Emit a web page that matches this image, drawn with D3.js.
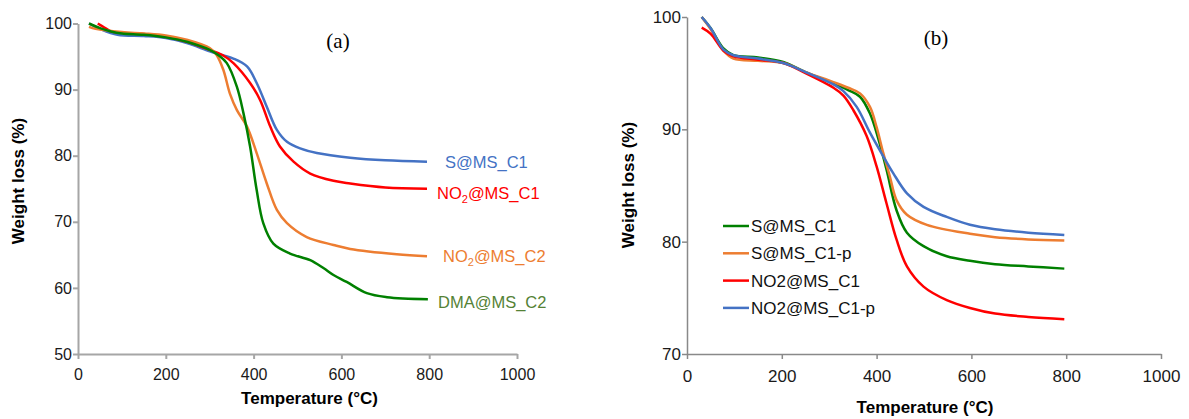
<!DOCTYPE html>
<html>
<head>
<meta charset="utf-8">
<script src="https://cdn.jsdelivr.net/npm/d3@7"></script>
<style>
  body { margin: 0; background: #fff; }
  svg { display: block; font-family: "Liberation Sans", Arial, sans-serif; }
</style>
</head>
<body>
<script>
// ---- panel (a) data ----
var aS_T   = [25, 50, 90, 150, 200, 250, 300, 330, 354, 385, 407, 430, 453, 476, 506, 544, 620, 700, 795];
var aS_W   = [100, 99.2, 98.3, 98.1, 97.8, 97.0, 95.8, 95.2, 94.7, 93.5, 91.0, 87.4, 83.9, 82.1, 81.1, 80.4, 79.7, 79.3, 79.1];
var aN1_T  = [45, 60, 75, 100, 150, 200, 250, 300, 330, 354, 392, 415, 438, 460, 491, 529, 582, 620, 700, 795];
var aN1_W  = [100, 99.4, 98.8, 98.6, 98.4, 98.0, 97.2, 96.0, 95.2, 94.0, 91.0, 88.4, 84.4, 81.4, 79.1, 77.3, 76.2, 75.8, 75.2, 75.0];
var aN2_T  = [25, 40, 100, 150, 200, 250, 300, 315, 331, 346, 362, 385, 407, 430, 453, 476, 521, 582, 620, 726, 795];
var aN2_W  = [99.5, 99.2, 98.7, 98.5, 98.2, 97.5, 96.3, 95.3, 93.0, 89.4, 86.9, 84.4, 80.4, 75.8, 71.8, 69.8, 67.7, 66.5, 65.9, 65.1, 64.8];
var aD_T   = [25, 50, 75, 100, 150, 200, 250, 300, 320, 339, 362, 377, 392, 407, 422, 445, 483, 529, 559, 582, 612, 658, 704, 797];
var aD_W   = [100, 99.3, 98.8, 98.5, 98.3, 97.9, 97.2, 96.0, 95.2, 94.0, 90.4, 86.4, 81.4, 74.8, 69.8, 66.7, 65.2, 64.2, 63.0, 61.95, 60.9, 59.2, 58.6, 58.3];

// ---- panel (b) data ----
var bS_T   = [31, 50, 77, 98, 150, 203, 250, 309, 340, 365, 386, 404, 421, 442, 464, 499, 548, 597, 650, 720, 796];
var bS_W   = [100, 99.0, 97.2, 96.6, 96.4, 96.0, 95.1, 94.1, 93.5, 92.9, 91.4, 89.1, 86.4, 82.8, 80.8, 79.6, 78.7, 78.3, 78.0, 77.8, 77.6];
var bSp_T  = [31, 50, 77, 98, 150, 203, 250, 309, 340, 365, 386, 400, 414, 428, 442, 464, 506, 597, 650, 720, 796];
var bSp_W  = [100, 98.9, 97.0, 96.3, 96.1, 95.9, 95.1, 94.2, 93.7, 93.2, 92.0, 90.2, 87.9, 85.8, 83.7, 82.4, 81.5, 80.7, 80.4, 80.2, 80.1];
var bN_T   = [31, 50, 77, 98, 150, 203, 250, 309, 330, 351, 379, 400, 421, 442, 464, 499, 548, 597, 650, 720, 796];
var bN_W   = [99.05, 98.5, 97.0, 96.5, 96.2, 95.9, 95.0, 93.7, 93.0, 91.7, 89.4, 86.7, 83.4, 80.2, 77.8, 76.0, 74.8, 74.1, 73.6, 73.3, 73.1];
var bNp_T  = [31, 50, 77, 98, 150, 203, 250, 309, 330, 358, 386, 414, 435, 464, 499, 548, 597, 650, 720, 796];
var bNp_W  = [100, 99.0, 97.1, 96.6, 96.3, 95.9, 95.1, 94.0, 93.4, 92.0, 89.7, 87.6, 86.1, 84.3, 83.1, 82.2, 81.5, 81.1, 80.8, 80.6];

var xTicks  = [0, 200, 400, 600, 800, 1000];
var aYTicks = [50, 60, 70, 80, 90, 100];
var bYTicks = [70, 80, 90, 100];

var width = 1189, height = 419;

var svg = d3.select("body").append("svg")
  .attr("width", width)
  .attr("height", height);

function zip(T, W) { return T.map((t, i) => [t, W[i]]); }

function drawPanel(opt) {
  var x = d3.scaleLinear().domain([0, 1000]).range(opt.xr);
  var y = d3.scaleLinear().domain(opt.yd).range(opt.yr);

  var gx = svg.append("g")
    .attr("transform", "translate(0," + opt.yr[0] + ")")
    .call(d3.axisBottom(x).tickValues(xTicks).tickFormat(d3.format("d"))
      .tickSize(5).tickSizeOuter(0).tickPadding(opt.xPad));
  var gy = svg.append("g")
    .attr("transform", "translate(" + opt.xr[0] + ",0)")
    .call(d3.axisLeft(y).tickValues(opt.yTicks).tickFormat(d3.format("d"))
      .tickSize(5).tickSizeOuter(0).tickPadding(1));

  [gx, gy].forEach(function(g) {
    g.select(".domain").attr("stroke", opt.axisColor).attr("stroke-width", opt.axisWidth);
    g.selectAll(".tick line").attr("stroke", opt.axisColor).attr("stroke-width", opt.axisWidth);
    g.selectAll(".tick text")
      .attr("fill", "#1a1a1a")
      .style("font-size", opt.tickFont + "px")
      .style("font-family", "'Liberation Sans', Arial, sans-serif");
  });

  var line = d3.line()
    .x(d => x(d[0]))
    .y(d => y(d[1]))
    .curve(d3.curveCatmullRom.alpha(0.5));

  opt.series.forEach(function(s) {
    svg.append("path")
      .datum(zip(s.T, s.W))
      .attr("fill", "none")
      .attr("stroke", s.color)
      .attr("stroke-width", 2.5)
      .attr("stroke-linejoin", "round")
      .attr("d", line);
  });

  // axis titles
  svg.append("text")
    .attr("x", (opt.xr[0] + opt.xr[1]) / 2 + opt.xtDx)
    .attr("y", opt.xtY)
    .attr("text-anchor", "middle")
    .style("font-size", "17px")
    .style("font-weight", "bold")
    .text("Temperature (°C)");

  svg.append("text")
    .attr("transform", "translate(" + opt.ytX + "," + opt.ytY + ") rotate(-90)")
    .attr("text-anchor", "middle")
    .style("font-size", "17px")
    .style("font-weight", "bold")
    .text("Weight loss (%)");

  // panel letter
  svg.append("text")
    .attr("x", opt.letterX)
    .attr("y", opt.letterY)
    .attr("text-anchor", "middle")
    .style("font-family", "'Liberation Serif', 'Times New Roman', serif")
    .style("font-size", "21px")
    .text(opt.letter);

  return { x: x, y: y };
}

// panel (a)
drawPanel({
  xr: [78, 517], yd: [50, 100], yr: [354, 23.5], yTicks: aYTicks,
  axisColor: "#a6a6a6", axisWidth: 2, tickFont: 16, xPad: 10,
  xtDx: 12, xtY: 404, ytX: 24, ytY: 181,
  letter: "(a)", letterX: 338, letterY: 48,
  series: [
    { T: aS_T,  W: aS_W,  color: "#4472C4" },
    { T: aN1_T, W: aN1_W, color: "#FF0000" },
    { T: aN2_T, W: aN2_W, color: "#ED7D31" },
    { T: aD_T,  W: aD_W,  color: "#008000" }
  ]
});

// panel (a) direct labels
var aLabels = [
  { x: 445, y: 168, color: "#4472C4", parts: ["S@MS_C1"] },
  { x: 437, y: 199, color: "#FF0000", parts: ["NO", "2", "@MS_C1"] },
  { x: 443, y: 262, color: "#ED7D31", parts: ["NO", "2", "@MS_C2"] },
  { x: 438, y: 308, color: "#548235", parts: ["DMA@MS_C2"] }
];
aLabels.forEach(function(l) {
  var t = svg.append("text")
    .attr("x", l.x).attr("y", l.y)
    .attr("fill", l.color)
    .style("font-size", "16.5px");
  if (l.parts.length === 1) {
    t.text(l.parts[0]);
  } else {
    t.append("tspan").text(l.parts[0]);
    t.append("tspan").attr("dy", 4).style("font-size", "11px").text(l.parts[1]);
    t.append("tspan").attr("dy", -4).text(l.parts[2]);
  }
});

// panel (b)
var bSeries = [
  { T: bS_T,  W: bS_W,  color: "#008000", name: "S@MS_C1" },
  { T: bSp_T, W: bSp_W, color: "#ED7D31", name: "S@MS_C1-p" },
  { T: bN_T,  W: bN_W,  color: "#FF0000", name: "NO2@MS_C1" },
  { T: bNp_T, W: bNp_W, color: "#4472C4", name: "NO2@MS_C1-p" }
];
drawPanel({
  xr: [687, 1161], yd: [70, 100], yr: [354, 17], yTicks: bYTicks,
  axisColor: "#898989", axisWidth: 1.5, tickFont: 17, xPad: 11,
  xtDx: 1, xtY: 413, ytX: 634, ytY: 185,
  letter: "(b)", letterX: 936, letterY: 45,
  series: bSeries
});

// panel (b) legend
var legend = svg.append("g").attr("transform", "translate(723,226)");
bSeries.forEach(function(s, i) {
  var row = legend.append("g").attr("transform", "translate(0," + (i * 27.3) + ")");
  row.append("line").attr("x1", 0).attr("x2", 26).attr("y1", 0).attr("y2", 0)
    .attr("stroke", s.color).attr("stroke-width", 2.5);
  row.append("text").attr("x", 28).attr("y", 6)
    .style("font-size", "17px").attr("fill", "#111").text(s.name);
});
</script>
</body>
</html>
